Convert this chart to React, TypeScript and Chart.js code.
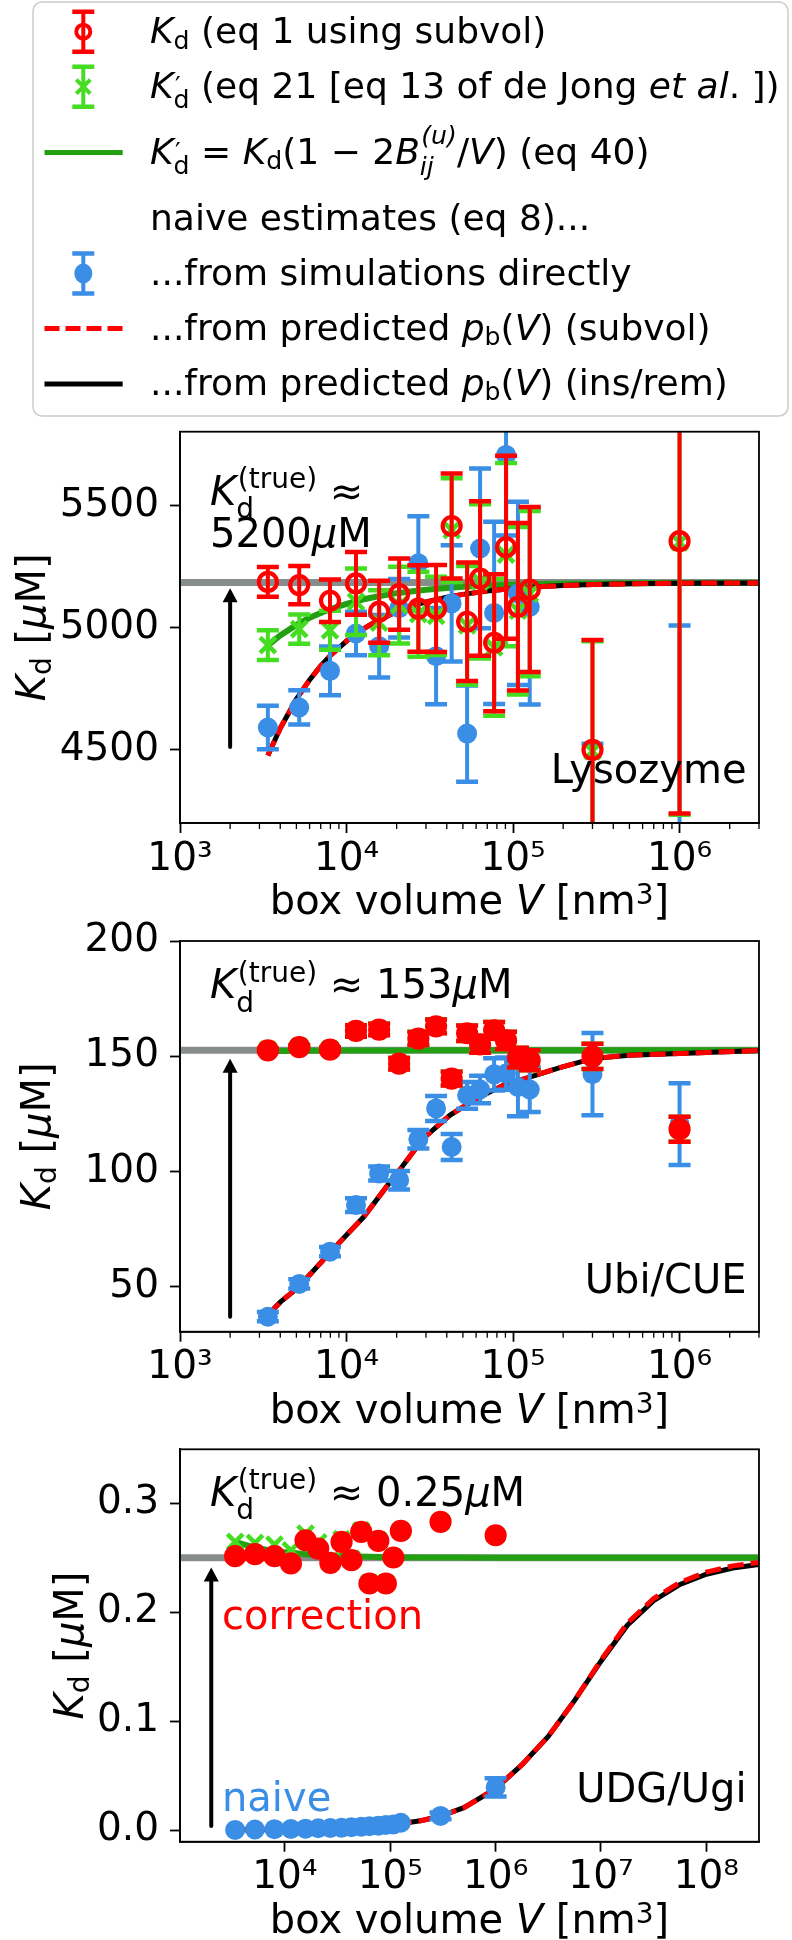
import React, { useEffect, useRef } from 'react';
import { Chart, registerables } from 'chart.js';

Chart.register(...registerables);

const FF = '"DejaVu Sans", "Liberation Sans", sans-serif';
Chart.defaults.font.family = FF;

const RED = '#ff0000';
const GREEN_MARK = '#44dd22';
const GREEN_LINE = '#22a012';
const BLUE = '#3a8ee6';
const GRAY = '#878c8c';

// ---------------- data ----------------
const BOX_V = [3370, 5200, 7960, 11400, 15700, 20700, 27000, 34500, 42800, 53000, 63400, 77000, 90800, 107000, 126000, 300000, 1000000];

// Lysozyme
const LYS_KD = [5188, 5175, 5111, 5182, 5066, 5138, 5079, 5079, 5417, 5025, 5202, 4939, 5330, 5086, 5157, 4500, 5355];
const LYS_KD_ERR = [61, 78, 87, 128, 127, 146, 177, 178, 215, 243, 316, 280, 375, 343, 338, 450, 1115];
const LYS_KDP = [4929, 4995, 4990, 5107, 5021, 5093, 5056, 5049, 5400, 5010, 5190, 4920, 5300, 5070, 5140, 4495, 5350];
const LYS_KDP_ERR = [61, 60, 80, 136, 133, 157, 174, 160, 212, 243, 316, 280, 375, 343, 338, 450, 1115];
const LYS_NAIVE = [4592, 4674, 4824, 4977, 4925, 5080, 5264, 4884, 5100, 4567, 5325, 5061, 5708, 5141, 5086, 3700, 4150];
const LYS_NAIVE_ERR = [89, 70, 100, 89, 128, 120, 193, 197, 238, 197, 327, 373, 330, 375, 400, 825, 860];
const LYS_CURVE_V = [3370, 4000, 5000, 6000, 7000, 8000, 10000, 12500, 15000, 20000, 25000, 30000, 40000, 50000, 70000, 100000, 150000, 200000, 300000, 500000, 1000000, 3000000];
const LYS_EQ40 = [4928, 4969, 5012, 5041, 5061, 5077, 5098, 5116, 5127, 5142, 5150, 5156, 5163, 5168, 5173, 5176, 5179, 5181, 5182, 5183, 5184, 5185];
const LYS_SUBVOL = [4477, 4589, 4708, 4787, 4844, 4887, 4946, 4994, 5026, 5066, 5090, 5106, 5125, 5137, 5151, 5161, 5169, 5173, 5177, 5180, 5183, 5184];
const LYS_INSREM = [4477, 4589, 4708, 4787, 4844, 4887, 4946, 4994, 5026, 5066, 5090, 5106, 5125, 5137, 5151, 5161, 5169, 5173, 5177, 5180, 5183, 5184];
const LYS_TRUE = 5186;
const LYS_ARROW = [2000, 4512, 5162];
const LYS_Y_TICKS = [4500, 5000, 5500];

// Ubi/CUE
const UBI_KD = [152.6, 154, 152.9, 161, 161.6, 146.8, 157.7, 163, 140.3, 160, 155.2, 161.3, 156.9, 149.4, 148.3, 150, 118.4];
const UBI_KD_ERR = [0.6, 0.7, 0.8, 2.5, 2.5, 2.5, 2.8, 3.0, 3.0, 3.4, 3.6, 3.6, 3.8, 4.3, 4.3, 5.5, 5.4];
const UBI_KDP = [152.9, 154.2, 153.1, 161.1, 161.7, 146.9, 157.8, 163.1, 140.4, 160, 155.2, 161.3, 156.9, 149.4, 148.3, 150, 118.4];
const UBI_KDP_ERR = [0.6, 0.7, 0.8, 2.5, 2.5, 2.5, 2.8, 3.0, 3.0, 3.4, 3.6, 3.6, 3.8, 4.3, 4.3, 5.5, 5.4];
const UBI_NAIVE = [37.1, 51.3, 65.3, 85.5, 99.2, 96.3, 114.0, 127.4, 110.7, 133.1, 135.6, 142.2, 142.5, 136.7, 135.6, 142.3, 120.6];
const UBI_NAIVE_ERR = [2, 2, 2, 3, 3, 4, 4, 5.4, 5.6, 5.8, 6, 7, 7, 12.7, 9.7, 17.8, 17.7];
const UBI_CURVE_V = [3370, 4000, 5000, 6000, 8000, 10000, 12700, 18000, 20000, 28900, 41900, 60500, 87500, 126000, 191000, 300000, 500000, 1000000, 3000000];
const UBI_EQ40 = [152.2, 152.3, 152.4, 152.4, 152.5, 152.5, 152.5, 152.5, 152.5, 152.6, 152.6, 152.6, 152.6, 152.6, 152.6, 152.6, 152.6, 152.6, 152.6];
const UBI_SUBVOL = [37.8, 43.4, 49.2, 55.2, 65.1, 72.5, 80.4, 94.9, 99.0, 114.4, 124.5, 131.7, 137.4, 141.0, 145.1, 149.0, 150.5, 151.2, 152.5];
const UBI_INSREM = [37.8, 43.4, 49.2, 55.2, 65.1, 72.5, 80.4, 94.9, 99.0, 114.4, 124.5, 131.7, 137.4, 141.0, 145.1, 149.0, 150.5, 151.2, 152.5];
const UBI_TRUE = 152.6;
const UBI_ARROW = [2000, 37.1, 149];
const UBI_Y_TICKS = [50, 100, 150, 200];

// UDG/Ugi
const UDG_KD = [0.2514, 0.2532, 0.2514, 0.2447, 0.266, 0.2584, 0.2452, 0.2645, 0.2477, 0.2737, 0.2263, 0.2654, 0.2263, 0.2502, 0.2746, 0.2829, 0.2706];
const UDG_KD_ERR = [0, 0, 0, 0, 0, 0, 0, 0, 0, 0, 0, 0, 0, 0, 0, 0, 0];
const UDG_KDP = [0.2645, 0.2635, 0.262, 0.2567, 0.272, 0.264, 0.2475, 0.267, 0.249, 0.275, 0.227, 0.266, 0.2265, 0.2503, 0.2747, 0.283, 0.2706];
const UDG_KDP_ERR = [0, 0, 0, 0, 0, 0, 0, 0, 0, 0, 0, 0, 0, 0, 0, 0, 0];
const UDG_NAIVE = [0.0001, 0.0005, 0.0008, 0.001, 0.0013, 0.0016, 0.0019, 0.0022, 0.0026, 0.003, 0.0035, 0.004, 0.0046, 0.0052, 0.0067, 0.013, 0.0392];
const UDG_NAIVE_ERR = [0, 0, 0, 0, 0, 0, 0, 0, 0, 0, 0, 0, 0, 0, 0, 0.003, 0.0084];
const UDG_CURVE_V = [3370, 5000, 7000, 10000, 15000, 20000, 30000, 50000, 100000, 200000, 300000, 500000, 1000000, 1780000, 3160000, 5620000, 10000000, 17800000, 31600000, 56200000, 100000000, 178000000, 316000000];
const UDG_EQ40 = [0.2645, 0.2598, 0.257, 0.2549, 0.2533, 0.2524, 0.2516, 0.251, 0.2505, 0.2502, 0.2502, 0.2501, 0.25, 0.25, 0.25, 0.25, 0.25, 0.25, 0.25, 0.25, 0.25, 0.25, 0.25];
const UDG_SUBVOL = [0.0002, 0.0003, 0.0004, 0.0005, 0.0008, 0.001, 0.0014, 0.0024, 0.0045, 0.0088, 0.0128, 0.0205, 0.038, 0.06, 0.086, 0.119, 0.156, 0.19, 0.2125, 0.2274, 0.2368, 0.2425, 0.2457];
const UDG_INSREM = [0.0002, 0.0003, 0.0004, 0.0005, 0.0008, 0.001, 0.0014, 0.0024, 0.0045, 0.0088, 0.0128, 0.0205, 0.038, 0.06, 0.086, 0.119, 0.155, 0.188, 0.2105, 0.2254, 0.2348, 0.2405, 0.2437];
const UDG_TRUE = 0.25;
const UDG_ARROW = [2000, 0.0037, 0.241];
const UDG_Y_TICKS = [0, 0.1, 0.2, 0.3];

const X_TICKS_AB = [1e3, 1e4, 1e5, 1e6];
const X_TICKS_C = [1e4, 1e5, 1e6, 1e7, 1e8];

// ---------------- rich text ----------------
type Run = { t?: string; it?: boolean; sub?: string; subIt?: boolean; subDy?: number; sup?: string; supIt?: boolean; supDy?: number };

function fnt(size: number, it?: boolean) {
  return `${it ? 'italic ' : ''}${size}px ${FF}`;
}

function layoutRuns(ctx: CanvasRenderingContext2D, runs: Run[], size: number) {
  const items: { x: number; dy: number; text: string; font: string }[] = [];
  let x = 0;
  for (const r of runs) {
    if (r.t) {
      const f = fnt(size, r.it);
      ctx.font = f;
      items.push({ x, dy: 0, text: r.t, font: f });
      x += ctx.measureText(r.t).width;
    }
    if (r.sub || r.sup) {
      const ss = size * 0.7;
      const both = !!(r.sub && r.sup);
      let w = 0;
      if (r.sup) {
        const f = fnt(ss, r.supIt);
        ctx.font = f;
        const sx = x + (r.it ? size * 0.04 : 0);
        items.push({ x: sx, dy: -(r.supDy ?? 0.42) * size, text: r.sup, font: f });
        w = Math.max(w, sx - x + ctx.measureText(r.sup).width);
      }
      if (r.sub) {
        const f = fnt(ss, r.subIt);
        ctx.font = f;
        items.push({ x, dy: (r.subDy ?? (both ? 0.3 : 0.15)) * size, text: r.sub, font: f });
        w = Math.max(w, ctx.measureText(r.sub).width);
      }
      x += w;
    }
  }
  return { items, width: x };
}

function drawRich(ctx: CanvasRenderingContext2D, runs: Run[], x: number, y: number, size: number, align = 'left', color = '#000') {
  const { items, width } = layoutRuns(ctx, runs, size);
  const x0 = align === 'center' ? x - width / 2 : align === 'right' ? x - width : x;
  ctx.save();
  ctx.fillStyle = color;
  ctx.textAlign = 'left';
  ctx.textBaseline = 'alphabetic';
  for (const it of items) {
    ctx.font = it.font;
    ctx.fillText(it.text, x0 + it.x, y + it.dy);
  }
  ctx.restore();
}

const KD: Run = { t: 'K', it: true, sub: 'd' };
const KTRUE: Run = { t: 'K', it: true, sub: 'd', sup: '(true)', subDy: 0.33, supDy: 0.42 };
const X_TITLE: Run[] = [{ t: 'box volume ' }, { t: 'V', it: true }, { t: ' [nm', sup: '3', supDy: 0.25 }, { t: ']' }];
const Y_TITLE: Run[] = [KD, { t: ' [' }, { t: 'μ', it: true }, { t: 'M]' }];

const SUPS: Record<string, string> = { '0': '⁰', '1': '¹', '2': '²', '3': '³', '4': '⁴', '5': '⁵', '6': '⁶', '7': '⁷', '8': '⁸', '9': '⁹' };
function powLabel(v: number) {
  const e = Math.round(Math.log10(v));
  return '10' + String(e).split('').map((c) => SUPS[c]).join('');
}

function minorTicks(min: number, max: number) {
  const out: number[] = [];
  for (let e = Math.floor(Math.log10(min)); e <= Math.ceil(Math.log10(max)); e++) {
    for (let k = 2; k <= 9; k++) {
      const v = k * Math.pow(10, e);
      if (v > min && v <= max * 1.0001) out.push(v);
    }
  }
  return out;
}

// ---------------- legend ----------------
function drawErrMarker(ctx: CanvasRenderingContext2D, cx: number, cy: number, color: string, kind: string) {
  ctx.save();
  ctx.strokeStyle = color;
  ctx.fillStyle = color;
  ctx.lineWidth = 4;
  ctx.beginPath();
  ctx.moveTo(cx, cy - 20);
  ctx.lineTo(cx, cy + 20);
  ctx.stroke();
  ctx.lineWidth = 4.5;
  ctx.beginPath();
  ctx.moveTo(cx - 11, cy - 20);
  ctx.lineTo(cx + 11, cy - 20);
  ctx.moveTo(cx - 11, cy + 20);
  ctx.lineTo(cx + 11, cy + 20);
  ctx.stroke();
  if (kind === 'open') {
    ctx.lineWidth = 4;
    ctx.beginPath();
    ctx.arc(cx, cy, 7, 0, Math.PI * 2);
    ctx.stroke();
  } else if (kind === 'x') {
    ctx.lineWidth = 4;
    ctx.beginPath();
    ctx.moveTo(cx - 7, cy - 7);
    ctx.lineTo(cx + 7, cy + 7);
    ctx.moveTo(cx - 7, cy + 7);
    ctx.lineTo(cx + 7, cy - 7);
    ctx.stroke();
  } else {
    ctx.beginPath();
    ctx.ellipse(cx, cy, 9, 10, 0, 0, Math.PI * 2);
    ctx.fill();
  }
  ctx.restore();
}

function drawLineSample(ctx: CanvasRenderingContext2D, y: number, color: string, dash: number[]) {
  ctx.save();
  ctx.strokeStyle = color;
  ctx.lineWidth = 5;
  ctx.setLineDash(dash);
  ctx.beginPath();
  ctx.moveTo(44.5, y);
  ctx.lineTo(122.7, y);
  ctx.stroke();
  ctx.restore();
}

function drawLegend(ctx: CanvasRenderingContext2D) {
  ctx.save();
  ctx.beginPath();
  const x = 33, y = 2, w = 755, h = 414, r = 9;
  ctx.moveTo(x + r, y);
  ctx.arcTo(x + w, y, x + w, y + h, r);
  ctx.arcTo(x + w, y + h, x, y + h, r);
  ctx.arcTo(x, y + h, x, y, r);
  ctx.arcTo(x, y, x + w, y, r);
  ctx.closePath();
  ctx.fillStyle = 'rgba(255,255,255,0.85)';
  ctx.fill();
  ctx.strokeStyle = '#cccccc';
  ctx.lineWidth = 1.5;
  ctx.stroke();
  ctx.restore();

  const mx = 83.3, tx = 150, fs = 36;
  drawErrMarker(ctx, mx, 31.7, RED, 'open');
  drawRich(ctx, [KD, { t: ' (eq 1 using subvol)' }], tx, 43.3, fs);

  drawErrMarker(ctx, mx, 86.7, GREEN_MARK, 'x');
  drawRich(ctx, [{ t: 'K', it: true, sup: '′', supDy: 0.12, sub: 'd', subDy: 0.28 }, { t: ' (eq 21 [eq 13 of de Jong ' }, { t: 'et al', it: true }, { t: '. ])' }], tx, 98.3, fs);

  drawLineSample(ctx, 152.5, GREEN_LINE, []);
  drawRich(ctx, [
    { t: 'K', it: true, sup: '′', supDy: 0.12, sub: 'd', subDy: 0.28 },
    { t: ' = ' },
    KD,
    { t: '(1 − 2' },
    { t: 'B', it: true, sub: 'ij', subIt: true, subDy: 0.3, sup: '(u)', supIt: true, supDy: 0.55 },
    { t: '/' },
    { t: 'V', it: true },
    { t: ') (eq 40)' },
  ], tx, 164, fs);

  drawRich(ctx, [{ t: 'naive estimates (eq 8)...' }], tx, 230, fs);

  drawErrMarker(ctx, mx, 273.5, BLUE, 'dot');
  drawRich(ctx, [{ t: '...from simulations directly' }], tx, 285, fs);

  drawLineSample(ctx, 328.5, RED, [15, 6]);
  drawRich(ctx, [{ t: '...from predicted ' }, { t: 'p', it: true, sub: 'b' }, { t: '(' }, { t: 'V', it: true }, { t: ') (subvol)' }], tx, 340, fs);

  drawLineSample(ctx, 384, '#000', []);
  drawRich(ctx, [{ t: '...from predicted ' }, { t: 'p', it: true, sub: 'b' }, { t: '(' }, { t: 'V', it: true }, { t: ') (ins/rem)' }], tx, 395, fs);
}

// ---------------- panels ----------------
type Panel = {
  height: number; padTop: number; xAxisH: number;
  xMin: number; xMax: number; xTicks: number[]; minor: boolean;
  yMin: number; yMax: number; yTicks: number[]; yFmt: (v: number) => string; yTitleX: number;
  kd: number[]; kdErr: number[]; kdp: number[]; kdpErr: number[]; naive: number[]; naiveErr: number[];
  curveV: number[]; eq40: number[]; subvol: number[]; insrem: number[]; trueK: number; arrow: number[];
  filled: boolean; legend: boolean;
  annotate: (ctx: CanvasRenderingContext2D, a: { left: number; right: number; top: number; bottom: number }) => void;
};

function pts(xs: number[], ys: number[]) {
  return xs.map((x, i) => ({ x, y: ys[i] }));
}

function buildDatasets(P: Panel): any[] {
  return [
    { label: 'true', data: pts([P.xMin, P.xMax], [P.trueK, P.trueK]), showLine: true, borderColor: GRAY, borderWidth: 7, pointRadius: 0, order: 10 },
    { label: 'eq40', data: pts(P.curveV, P.eq40), showLine: true, borderColor: GREEN_LINE, borderWidth: 6, pointRadius: 0, order: 9 },
    { label: 'insrem', data: pts(P.curveV, P.insrem), showLine: true, borderColor: '#000', borderWidth: 5, pointRadius: 0, order: 8 },
    { label: 'subvol', data: pts(P.curveV, P.subvol), showLine: true, borderColor: RED, borderWidth: 5, borderDash: [16, 7], pointRadius: 0, order: 7 },
    {
      label: 'naive', data: pts(BOX_V, P.naive), errors: P.naiveErr, errColor: BLUE, showLine: false,
      pointStyle: 'circle', pointRadius: 10, pointHoverRadius: 10, pointBorderWidth: 0, pointBackgroundColor: BLUE, pointBorderColor: BLUE,
      backgroundColor: BLUE, borderColor: BLUE, order: 6,
    },
    {
      label: 'kdp', data: pts(BOX_V, P.kdp), errors: P.kdpErr, errColor: GREEN_MARK, showLine: false,
      pointStyle: 'crossRot', pointRadius: 11, pointHoverRadius: 11, pointBorderWidth: 4.5, pointBorderColor: GREEN_MARK,
      backgroundColor: GREEN_MARK, borderColor: GREEN_MARK, order: 5,
    },
    {
      label: 'kd', data: pts(BOX_V, P.kd), errors: P.kdErr, errColor: RED, showLine: false,
      pointStyle: 'circle', pointRadius: 9, pointHoverRadius: 9, pointBorderWidth: 4.2, pointBorderColor: RED,
      pointBackgroundColor: P.filled ? RED : 'rgba(0,0,0,0)', backgroundColor: P.filled ? RED : 'rgba(0,0,0,0)', borderColor: RED, order: 4,
    },
  ];
}

function drawArrow(ctx: CanvasRenderingContext2D, x: number, y0: number, y1: number) {
  ctx.save();
  ctx.strokeStyle = '#000';
  ctx.fillStyle = '#000';
  ctx.lineWidth = 4;
  ctx.lineCap = 'round';
  ctx.beginPath();
  ctx.moveTo(x, y0);
  ctx.lineTo(x, y1 + 10);
  ctx.stroke();
  ctx.beginPath();
  ctx.moveTo(x, y1);
  ctx.lineTo(x - 7.5, y1 + 14);
  ctx.lineTo(x + 7.5, y1 + 14);
  ctx.closePath();
  ctx.fill();
  ctx.restore();
}

function makePanel(canvas: HTMLCanvasElement, P: Panel) {
  const deco = {
    id: 'deco',
    beforeDatasetDraw(chart: any, args: any) {
      const ds = chart.data.datasets[args.index];
      if (!ds.errors) return;
      const { ctx, chartArea: a } = chart;
      const xs = chart.scales.x, ys = chart.scales.y;
      ctx.save();
      ctx.beginPath();
      ctx.rect(a.left, a.top, a.right - a.left, a.bottom - a.top);
      ctx.clip();
      ctx.strokeStyle = ds.errColor;
      ds.data.forEach((p: any, i: number) => {
        const e = ds.errors[i];
        if (!e) return;
        const px = xs.getPixelForValue(p.x);
        const yLo = ys.getPixelForValue(p.y - e);
        const yHi = ys.getPixelForValue(p.y + e);
        ctx.lineWidth = 4;
        ctx.beginPath();
        ctx.moveTo(px, yLo);
        ctx.lineTo(px, yHi);
        ctx.stroke();
        ctx.lineWidth = 4.5;
        ctx.beginPath();
        ctx.moveTo(px - 11, yLo);
        ctx.lineTo(px + 11, yLo);
        ctx.moveTo(px - 11, yHi);
        ctx.lineTo(px + 11, yHi);
        ctx.stroke();
      });
      ctx.restore();
    },
    afterDatasetsDraw(chart: any) {
      const { ctx, chartArea: a } = chart;
      const xs = chart.scales.x, ys = chart.scales.y;
      drawArrow(ctx, xs.getPixelForValue(P.arrow[0]), ys.getPixelForValue(P.arrow[1]), ys.getPixelForValue(P.arrow[2]));
      P.annotate(ctx, a);
      ctx.save();
      ctx.strokeStyle = '#000';
      ctx.lineWidth = 1.8;
      ctx.strokeRect(a.left, a.top, a.right - a.left, a.bottom - a.top);
      ctx.restore();
    },
    afterDraw(chart: any) {
      const { ctx, chartArea: a } = chart;
      const xs = chart.scales.x;
      if (P.minor) {
        ctx.save();
        ctx.strokeStyle = '#000';
        ctx.lineWidth = 1.3;
        ctx.beginPath();
        for (const v of minorTicks(P.xMin, P.xMax)) {
          const px = xs.getPixelForValue(v);
          ctx.moveTo(px, a.bottom);
          ctx.lineTo(px, a.bottom + 6);
        }
        ctx.stroke();
        ctx.restore();
      }
      drawRich(ctx, X_TITLE, (a.left + a.right) / 2, a.bottom + 91, 40, 'center');
      ctx.save();
      ctx.translate(P.yTitleX, (a.top + a.bottom) / 2);
      ctx.rotate(-Math.PI / 2);
      drawRich(ctx, Y_TITLE, 0, 0, 40, 'center');
      ctx.restore();
      if (P.legend) drawLegend(ctx);
    },
  };

  const tickFont = { family: FF, size: 39, lineHeight: 1.2 };
  return new Chart(canvas, {
    type: 'scatter',
    data: { datasets: buildDatasets(P) },
    options: {
      responsive: false,
      maintainAspectRatio: false,
      animation: false,
      devicePixelRatio: 1,
      events: [],
      layout: { padding: { top: P.padTop, right: 33, left: 0, bottom: 0 } },
      plugins: { legend: { display: false }, tooltip: { enabled: false }, colors: { enabled: false } } as any,
      scales: {
        x: {
          type: 'logarithmic',
          min: P.xMin,
          max: P.xMax,
          afterBuildTicks: (s: any) => { s.ticks = P.xTicks.map((v) => ({ value: v, major: true })); },
          afterFit: (s: any) => { s.height = P.xAxisH; },
          ticks: { callback: (v: any) => powLabel(Number(v)), font: tickFont, color: '#000', padding: 3, maxRotation: 0, minRotation: 0, autoSkip: false },
          grid: { display: true, drawOnChartArea: false, drawTicks: true, tickLength: 10, tickWidth: 1.8, tickColor: '#000' },
          border: { display: true, color: '#000', width: 1.8 },
        },
        y: {
          type: 'linear',
          min: P.yMin,
          max: P.yMax,
          afterBuildTicks: (s: any) => { s.ticks = P.yTicks.map((v) => ({ value: v })); },
          afterFit: (s: any) => { s.width = 180; },
          ticks: { callback: (v: any) => P.yFmt(Number(v)), font: tickFont, color: '#000', padding: 11, autoSkip: false },
          grid: { display: true, drawOnChartArea: false, drawTicks: true, tickLength: 10, tickWidth: 1.8, tickColor: '#000' },
          border: { display: true, color: '#000', width: 1.8 },
        },
      } as any,
    },
    plugins: [deco],
  } as any);
}

const LYS_PANEL: Panel = {
  height: 930, padTop: 431.7, xAxisH: 107,
  xMin: 1000, xMax: 3000000, xTicks: X_TICKS_AB, minor: true,
  yMin: 4201, yMax: 5803, yTicks: LYS_Y_TICKS, yFmt: (v) => String(v), yTitleX: 45,
  kd: LYS_KD, kdErr: LYS_KD_ERR, kdp: LYS_KDP, kdpErr: LYS_KDP_ERR, naive: LYS_NAIVE, naiveErr: LYS_NAIVE_ERR,
  curveV: LYS_CURVE_V, eq40: LYS_EQ40, subvol: LYS_SUBVOL, insrem: LYS_INSREM, trueK: LYS_TRUE, arrow: LYS_ARROW,
  filled: false, legend: true,
  annotate: (ctx, a) => {
    drawRich(ctx, [KTRUE, { t: ' ≈' }], a.left + 30, a.top + 73.3, 40);
    drawRich(ctx, [{ t: '5200' }, { t: 'μ', it: true }, { t: 'M' }], a.left + 30, a.top + 115.3, 40);
    drawRich(ctx, [{ t: 'Lysozyme' }], a.right - 12.5, a.bottom - 39.7, 40, 'right');
  },
};

const UBI_PANEL: Panel = {
  height: 540, padTop: 41, xAxisH: 108.3,
  xMin: 1000, xMax: 3000000, xTicks: X_TICKS_AB, minor: true,
  yMin: 30.6, yMax: 200, yTicks: UBI_Y_TICKS, yFmt: (v) => String(v), yTitleX: 50,
  kd: UBI_KD, kdErr: UBI_KD_ERR, kdp: UBI_KDP, kdpErr: UBI_KDP_ERR, naive: UBI_NAIVE, naiveErr: UBI_NAIVE_ERR,
  curveV: UBI_CURVE_V, eq40: UBI_EQ40, subvol: UBI_SUBVOL, insrem: UBI_INSREM, trueK: UBI_TRUE, arrow: UBI_ARROW,
  filled: true, legend: false,
  annotate: (ctx, a) => {
    drawRich(ctx, [KTRUE, { t: ' ≈ 153' }, { t: 'μ', it: true }, { t: 'M' }], a.left + 30, a.top + 57.3, 40);
    drawRich(ctx, [{ t: 'Ubi/CUE' }], a.right - 12.5, a.bottom - 38.4, 40, 'right');
  },
};

const UDG_PANEL: Panel = {
  height: 540, padTop: 49.3, xAxisH: 98.3,
  xMin: 1010, xMax: 316000000, xTicks: X_TICKS_C, minor: false,
  yMin: -0.0107, yMax: 0.3495, yTicks: UDG_Y_TICKS, yFmt: (v) => v.toFixed(1), yTitleX: 83,
  kd: UDG_KD, kdErr: UDG_KD_ERR, kdp: UDG_KDP, kdpErr: UDG_KDP_ERR, naive: UDG_NAIVE, naiveErr: UDG_NAIVE_ERR,
  curveV: UDG_CURVE_V, eq40: UDG_EQ40, subvol: UDG_SUBVOL, insrem: UDG_INSREM, trueK: UDG_TRUE, arrow: UDG_ARROW,
  filled: true, legend: false,
  annotate: (ctx, a) => {
    drawRich(ctx, [KTRUE, { t: ' ≈ 0.25' }, { t: 'μ', it: true }, { t: 'M' }], a.left + 30, a.top + 56.7, 40);
    drawRich(ctx, [{ t: 'correction' }], a.left + 42, a.top + 179.7, 40, 'left', RED);
    drawRich(ctx, [{ t: 'naive' }], a.left + 42, a.bottom - 31.2, 40, 'left', BLUE);
    drawRich(ctx, [{ t: 'UDG/Ugi' }], a.right - 12.5, a.bottom - 40, 40, 'right');
  },
};

export default function App() {
  const c1 = useRef<HTMLCanvasElement>(null);
  const c2 = useRef<HTMLCanvasElement>(null);
  const c3 = useRef<HTMLCanvasElement>(null);

  useEffect(() => {
    const charts = [
      makePanel(c1.current as HTMLCanvasElement, LYS_PANEL),
      makePanel(c2.current as HTMLCanvasElement, UBI_PANEL),
      makePanel(c3.current as HTMLCanvasElement, UDG_PANEL),
    ];
    return () => charts.forEach((c) => c.destroy());
  }, []);

  return (
    <div style={{ position: 'absolute', left: 0, top: 0, width: 792, height: 1940, background: '#fff', overflow: 'hidden' }}>
      <canvas ref={c1} width={792} height={930} style={{ position: 'absolute', left: 0, top: 0, width: 792, height: 930 }} />
      <canvas ref={c2} width={792} height={540} style={{ position: 'absolute', left: 0, top: 900, width: 792, height: 540 }} />
      <canvas ref={c3} width={792} height={540} style={{ position: 'absolute', left: 0, top: 1400, width: 792, height: 540 }} />
    </div>
  );
}
